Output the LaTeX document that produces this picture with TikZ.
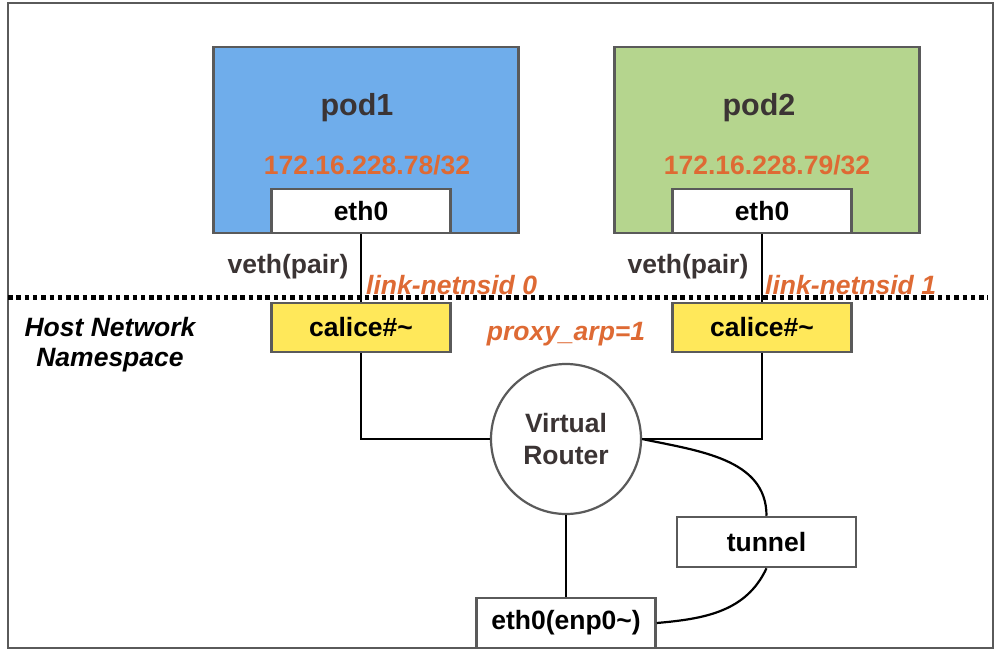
\documentclass[tikz,border=0pt]{standalone}
\usepackage{fontspec}
\setmainfont{Liberation Sans}
\usetikzlibrary{positioning,calc,shapes.geometric}

\definecolor{podblue}{HTML}{6FADEB}
\definecolor{podgreen}{HTML}{B5D58E}
\definecolor{caliyellow}{HTML}{FFE85A}
\definecolor{ipred}{HTML}{DE6A34}
\definecolor{boxgray}{HTML}{5A5A5A}
\definecolor{txtdark}{HTML}{3B3434}

\tikzset{
  podbox/.style={draw=boxgray, line width=2.5pt, minimum width=305pt, minimum height=186pt},
  ifbox/.style={draw=boxgray, line width=2.5pt, fill=white, minimum width=179pt, minimum height=47pt},
  calbox/.style={ifbox, fill=caliyellow, minimum height=49pt},
  ipaddr/.style={text=ipred},
  slanted/.style={font=\bfseries\itshape\fontsize{26.5}{30}\selectfont},
  wire/.style={line width=2.2pt, black}
}

\begin{document}
\begin{tikzpicture}[x=1pt, y=-1pt, every node/.style={font=\bfseries\fontsize{26.5}{30}\selectfont, inner sep=0pt}]
\useasboundingbox (0,0) rectangle (997,653);
% outer frame
\draw[boxgray, line width=2.5pt] (8,3) rectangle (993,648);

% pods
\node[podbox, fill=podblue] (pod1) at (366,140) {};
\node[podbox, fill=podgreen] (pod2) at (767,140) {};
\node[text=txtdark, font=\bfseries\fontsize{30.5}{32}\selectfont] (pod1name) at (357,108) {pod1};
\node[text=txtdark, font=\bfseries\fontsize{30.5}{32}\selectfont] (pod2name) at (759,108) {pod2};
\node[ipaddr] (pod1ip) at (367,165) {172.16.228.78/32};
\node[ipaddr] (pod2ip) at (767,165) {172.16.228.79/32};
\node[ifbox, minimum height=44pt] (eth1) at (361,211) {eth0};
\node[ifbox, minimum height=44pt] (eth2) at (762,211) {eth0};

% namespace border
\draw[line width=5pt, dash pattern=on 4.5pt off 3.8pt] (8,297) -- (988,297);
\node[align=center, slanted] (hostns) at (110,345) {Host Network\\Namespace};

% veth pairs
\node[calbox] (cali1) at (361,327.5) {calice\#\textasciitilde};
\node[calbox] (cali2) at (762,327.5) {calice\#\textasciitilde};
\node[text=txtdark] (veth1) at (288,267) {veth(pair)};
\node[text=txtdark] (veth2) at (688,267) {veth(pair)};
\node[ipaddr, anchor=west, slanted] (nsid0) at (366,285) {link-netnsid 0};
\node[ipaddr, anchor=west, slanted] (nsid1) at (765,285) {link-netnsid 1};
\node[ipaddr, slanted] (proxyarp) at (566,334) {proxy\_arp=1};

% host side
\node[circle, draw=boxgray, line width=2.2pt, fill=white, minimum size=150pt, align=center, text=txtdark,
  font=\bfseries\fontsize{26.5}{32}\selectfont] (router) at (566,439) {Virtual\\Router};
\node[ifbox, minimum height=50pt] (tunnel) at (766.5,542) {tunnel};
\node[ifbox, minimum height=50pt] (hosteth) at (566,623) {eth0(enp0\textasciitilde)};

% wires
\draw[wire] (eth1.south) -- (cali1.north);
\draw[wire] (eth2.south) -- (cali2.north);
\draw[wire] (cali1.south) |- (router.west);
\draw[wire] (cali2.south) |- (router.east);
\draw[wire] (router.south) -- (hosteth.north);
\draw[wire] (router.east) to[out=-12, in=90] (tunnel.north);
\draw[wire] (tunnel.south) to[out=-115, in=5] (hosteth.east);
\end{tikzpicture}
\end{document}
